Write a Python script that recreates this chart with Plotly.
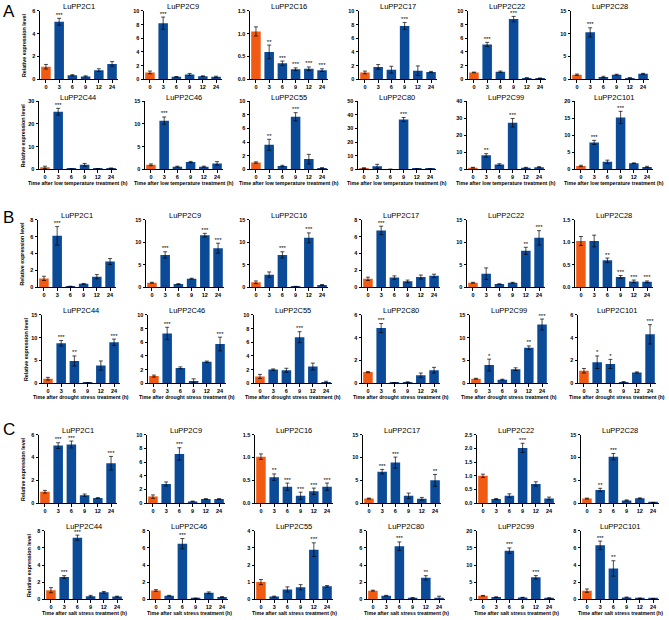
import plotly.graph_objects as go

W, H = 669, 620
hours = ["0", "3", "6", "9", "12", "24"]
genes = ["LuPP2C1", "LuPP2C9", "LuPP2C16", "LuPP2C17", "LuPP2C22", "LuPP2C28",
         "LuPP2C44", "LuPP2C46", "LuPP2C55", "LuPP2C80", "LuPP2C99", "LuPP2C101"]

# ---------------- Panel A : low temperature ----------------
A_means = [
    [1.1, 5.05, 0.35, 0.25, 0.8, 1.35],
    [1.0, 8.2, 0.35, 0.7, 0.45, 0.35],
    [1.05, 0.6, 0.35, 0.22, 0.23, 0.2],
    [1.0, 1.8, 1.4, 7.8, 1.25, 1.05],
    [1.0, 5.1, 1.1, 8.8, 0.2, 0.15],
    [1.0, 10.3, 0.5, 1.0, 0.3, 1.2],
    [0.9, 25.3, 0.2, 2.0, 0.3, 0.5],
    [1.0, 10.7, 0.6, 1.6, 0.6, 1.3],
    [1.0, 3.6, 0.5, 7.7, 1.5, 0.2],
    [0.9, 2.2, 0.1, 36.5, 0.3, 0.3],
    [1.0, 8.2, 2.8, 27.3, 1.0, 1.3],
    [1.0, 7.9, 2.2, 15.2, 1.8, 0.7],
]
A_errs = [
    [0.2, 0.3, 0.05, 0.05, 0.12, 0.2],
    [0.2, 0.9, 0.05, 0.15, 0.05, 0.1],
    [0.1, 0.15, 0.05, 0.03, 0.04, 0.03],
    [0.2, 0.35, 0.5, 0.5, 0.7, 0.1],
    [0.05, 0.3, 0.1, 0.4, 0.02, 0.02],
    [0.15, 1.0, 0.15, 0.1, 0.05, 0.1],
    [0.5, 1.5, 0.05, 0.6, 0.05, 0.1],
    [0.2, 0.8, 0.1, 0.15, 0.1, 0.4],
    [0.1, 0.8, 0.1, 0.6, 0.7, 0.05],
    [0.3, 1.5, 0.05, 1.5, 0.1, 0.1],
    [0.2, 1.0, 0.5, 2.5, 0.2, 0.3],
    [0.2, 0.6, 0.5, 1.8, 0.1, 0.2],
]
A_stars = [
    ["", "***", "", "", "", ""],
    ["", "***", "", "", "", ""],
    ["", "**", "***", "***", "***", "***"],
    ["", "", "", "***", "", ""],
    ["", "***", "", "***", "", ""],
    ["", "***", "", "", "", ""],
    ["", "***", "", "", "", ""],
    ["", "***", "", "", "", ""],
    ["", "**", "", "***", "", ""],
    ["", "", "", "***", "", ""],
    ["", "**", "", "***", "", ""],
    ["", "***", "", "***", "", ""],
]
A_ymax = [6, 10, 1.5, 10, 10, 15, 30, 15, 10, 50, 40, 20]
A_dtick = [2, 2, 0.5, 2, 2, 5, 10, 5, 2, 10, 10, 5]

# ---------------- Panel B : drought ----------------
B_means = [
    [1.05, 6.1, 0.1, 0.4, 1.25, 3.05],
    [1.0, 7.2, 0.7, 1.9, 11.6, 8.7],
    [1.1, 2.8, 7.2, 0.15, 11.0, 0.5],
    [1.0, 6.75, 1.15, 0.7, 1.2, 1.35],
    [1.0, 3.0, 0.7, 1.0, 8.1, 11.0],
    [1.03, 1.03, 0.6, 0.23, 0.13, 0.12],
    [1.0, 8.8, 4.9, 0.1, 3.9, 9.0],
    [1.05, 7.3, 2.25, 0.35, 3.15, 5.75],
    [1.0, 2.0, 1.9, 6.75, 2.45, 0.2],
    [0.98, 4.85, 0.05, 0.1, 0.7, 1.15],
    [1.0, 4.0, 0.8, 3.1, 7.8, 12.9],
    [1.1, 1.85, 1.7, 0.1, 0.95, 4.3],
]
B_errs = [
    [0.25, 1.1, 0.02, 0.05, 0.25, 0.35],
    [0.1, 0.7, 0.1, 0.1, 0.4, 1.1],
    [0.3, 0.6, 0.7, 0.05, 1.1, 0.1],
    [0.2, 0.5, 0.2, 0.15, 0.25, 0.2],
    [0.1, 1.3, 0.05, 0.1, 0.8, 1.6],
    [0.1, 0.13, 0.05, 0.03, 0.03, 0.02],
    [0.3, 0.6, 1.1, 0.05, 1.0, 0.7],
    [0.15, 0.9, 0.15, 0.3, 0.1, 1.0],
    [0.3, 0.1, 0.3, 0.8, 0.5, 0.1],
    [0.05, 0.4, 0.02, 0.03, 0.2, 0.25],
    [0.1, 1.3, 0.1, 0.3, 0.4, 1.2],
    [0.2, 0.55, 0.4, 0.05, 0.05, 0.85],
]
B_stars = [
    ["", "***", "", "", "", ""],
    ["", "***", "", "", "***", "***"],
    ["", "", "***", "", "***", ""],
    ["", "***", "", "", "", ""],
    ["", "", "", "", "**", "***"],
    ["", "", "**", "***", "***", "***"],
    ["", "***", "**", "", "", "***"],
    ["", "***", "", "", "", "***"],
    ["", "", "", "***", "", ""],
    ["", "***", "", "", "", ""],
    ["", "*", "", "", "**", "***"],
    ["", "*", "*", "", "", "***"],
]
B_ymax = [8, 15, 15, 8, 15, 1.5, 15, 10, 10, 6, 15, 6]
B_dtick = [2, 5, 5, 2, 5, 0.5, 5, 2, 2, 2, 5, 2]

# ---------------- Panel C : salt ----------------
C_means = [
    [1.0, 5.05, 5.15, 0.7, 0.45, 3.5],
    [0.95, 2.8, 7.2, 0.25, 0.6, 0.6],
    [1.02, 0.57, 0.36, 0.16, 0.26, 0.36],
    [1.0, 6.9, 8.9, 1.6, 0.95, 5.0],
    [1.0, 0.15, 0.27, 2.02, 0.7, 0.17],
    [1.0, 2.9, 10.2, 0.6, 1.05, 0.1],
    [1.05, 2.6, 7.2, 0.35, 0.8, 0.3],
    [1.02, 0.4, 6.5, 0.1, 0.75, 0.25],
    [1.0, 0.15, 0.57, 0.7, 2.9, 0.75],
    [1.0, 0.4, 6.2, 0.15, 2.5, 0.15],
    [1.0, 0.6, 14.2, 0.5, 6.4, 0.3],
    [1.0, 6.3, 3.6, 0.2, 0.1, 0.05],
]
C_errs = [
    [0.12, 0.25, 0.3, 0.1, 0.03, 0.6],
    [0.25, 0.3, 0.9, 0.05, 0.05, 0.05],
    [0.06, 0.07, 0.08, 0.08, 0.07, 0.08],
    [0.1, 0.5, 1.2, 0.6, 0.3, 1.3],
    [0.06, 0.02, 0.07, 0.17, 0.08, 0.05],
    [0.1, 0.35, 0.7, 0.1, 0.1, 0.05],
    [0.3, 0.15, 0.3, 0.1, 0.1, 0.05],
    [0.1, 0.05, 0.6, 0.03, 0.1, 0.05],
    [0.15, 0.03, 0.15, 0.15, 0.4, 0.05],
    [0.05, 0.05, 0.5, 0.03, 0.25, 0.2],
    [0.1, 0.1, 0.8, 0.05, 0.5, 0.1],
    [0.2, 0.5, 0.9, 0.05, 0.03, 0.03],
]
C_stars = [
    ["", "***", "***", "", "", "***"],
    ["", "", "***", "", "", ""],
    ["", "**", "***", "***", "***", "***"],
    ["", "***", "***", "", "", "**"],
    ["", "", "", "***", "", ""],
    ["", "**", "***", "", "", ""],
    ["", "***", "***", "", "", ""],
    ["", "", "***", "", "", ""],
    ["", "", "", "", "***", ""],
    ["", "", "***", "", "**", ""],
    ["", "", "***", "", "***", ""],
    ["", "***", "**", "", "", ""],
]
C_ymax = [6, 10, 1.5, 15, 2.5, 15, 8, 8, 4, 8, 20, 8]
C_dtick = [2, 2, 0.5, 5, 0.5, 5, 2, 2, 1, 2, 5, 2]

panel_letters = ["A", "B", "C"]
x_titles = ["Time after low temperature treatment (h)",
            "Time after drought stress treatment (h)",
            "Time after salt stress treatment (h)"]

ORANGE = "#F05A12"
BLUE = "#0B4A97"
FONT = "Liberation Sans, Arial, sans-serif"

# layout geometry (pixels)
row_tops = [8, 99, 219, 315, 436, 533]
row_bots = [77, 168, 287, 384, 505, 602]
row_lefts = [
    [40, 144, 250, 359, 468, 571],
    [39, 145, 250, 358, 467, 575],
    [38, 146, 250, 362, 467, 575],
    [42, 148, 254, 362, 470, 578],
    [39, 147, 255, 363, 477, 581],
    [45, 150, 255, 367, 477, 581],
]
PW = 78
letter_y = [9, 217, 431]

fig = go.Figure()
layout = dict(
    width=W, height=H, margin=dict(l=0, r=0, t=0, b=0),
    paper_bgcolor="white", plot_bgcolor="white", showlegend=False,
    font=dict(family=FONT, color="rgb(0,0,0)"),
)
annotations = []

panels = [
    (A_means, A_errs, A_stars, A_ymax, A_dtick),
    (B_means, B_errs, B_stars, B_ymax, B_dtick),
    (C_means, C_errs, C_stars, C_ymax, C_dtick),
]

for p, (means, errs, stars, ymaxs, dticks) in enumerate(panels):
    for i, name in enumerate(genes):
        k = p * 12 + i + 1
        row = 2 * p + i // 6
        col = i % 6
        left = row_lefts[row][col]
        top, bot = row_tops[row], row_bots[row]
        xa = "x" if k == 1 else f"x{k}"
        ya = "y" if k == 1 else f"y{k}"
        colors = [ORANGE] + [BLUE] * 5
        fig.add_trace(go.Bar(
            x=hours, y=means[i], xaxis=xa, yaxis=ya, width=0.72,
            marker=dict(color=colors, line=dict(width=0)),
            error_y=dict(type="data", array=errs[i], color="black",
                         thickness=0.7, width=2),
        ))
        fig.add_trace(go.Scatter(
            x=hours, y=[m + e for m, e in zip(means[i], errs[i])],
            xaxis=xa, yaxis=ya, mode="text", text=stars[i],
            textposition="top center",
            textfont=dict(size=6, family=FONT, color="black"),
            hoverinfo="skip", cliponaxis=False,
        ))
        kx = "xaxis" if k == 1 else f"xaxis{k}"
        ky = "yaxis" if k == 1 else f"yaxis{k}"
        layout[kx] = dict(
            domain=[left / W, (left + PW) / W], anchor=ya, type="category",
            range=[-0.45, 5.45], showline=True, linecolor="black", linewidth=1,
            ticks="outside", ticklen=2.5, tickwidth=0.8, tickcolor="black",
            tickfont=dict(size=5.5, family=FONT, weight="bold", color="black"),
            showgrid=False, zeroline=False, fixedrange=True,
        )
        layout[ky] = dict(
            domain=[1 - bot / H, 1 - top / H], anchor=xa,
            range=[0, ymaxs[i]], dtick=dticks[i], tick0=0,
            tickformat=".1f" if dticks[i] < 1 else "d",
            showline=True, linecolor="black", linewidth=1,
            ticks="outside", ticklen=2.5, tickwidth=0.8, tickcolor="black",
            tickfont=dict(size=5.5, family=FONT, weight="bold", color="black"),
            showgrid=False, zeroline=False, fixedrange=True,
        )
        # subplot title
        annotations.append(dict(
            text=name, xref="paper", x=(left + PW / 2) / W, yref="paper",
            y=1 - (top - 4) / H, yanchor="middle", xanchor="center",
            showarrow=False,
            font=dict(size=7.5, family=FONT, color="rgb(0,0,0)"),
        ))
        if col == 0:
            annotations.append(dict(
                text="<b>Relative expression level</b>", xref="paper",
                x=(left - 16) / W, yref="paper", y=1 - (top + bot) / 2 / H,
                textangle=-90, showarrow=False, xanchor="center",
                yanchor="middle",
                font=dict(size=5.3, family=FONT, color="rgb(0,0,0)"),
            ))
        if row % 2 == 1:
            annotations.append(dict(
                text=f"<b>{x_titles[p]}</b>", xref="paper",
                x=(left + PW / 2) / W,
                yref="paper", y=1 - (bot + 14) / H, xanchor="center",
                yanchor="middle", showarrow=False,
                font=dict(size=5.2, family=FONT, color="rgb(0,0,0)"),
            ))
    annotations.append(dict(
        text=panel_letters[p], xref="paper", yref="paper", x=1 / W,
        y=1 - letter_y[p] / H, xanchor="left", yanchor="middle",
        showarrow=False, font=dict(size=17, family=FONT, color="rgb(0,0,0)"),
    ))

layout["annotations"] = annotations
fig.update_layout(**layout)
fig.write_html("out.html")
